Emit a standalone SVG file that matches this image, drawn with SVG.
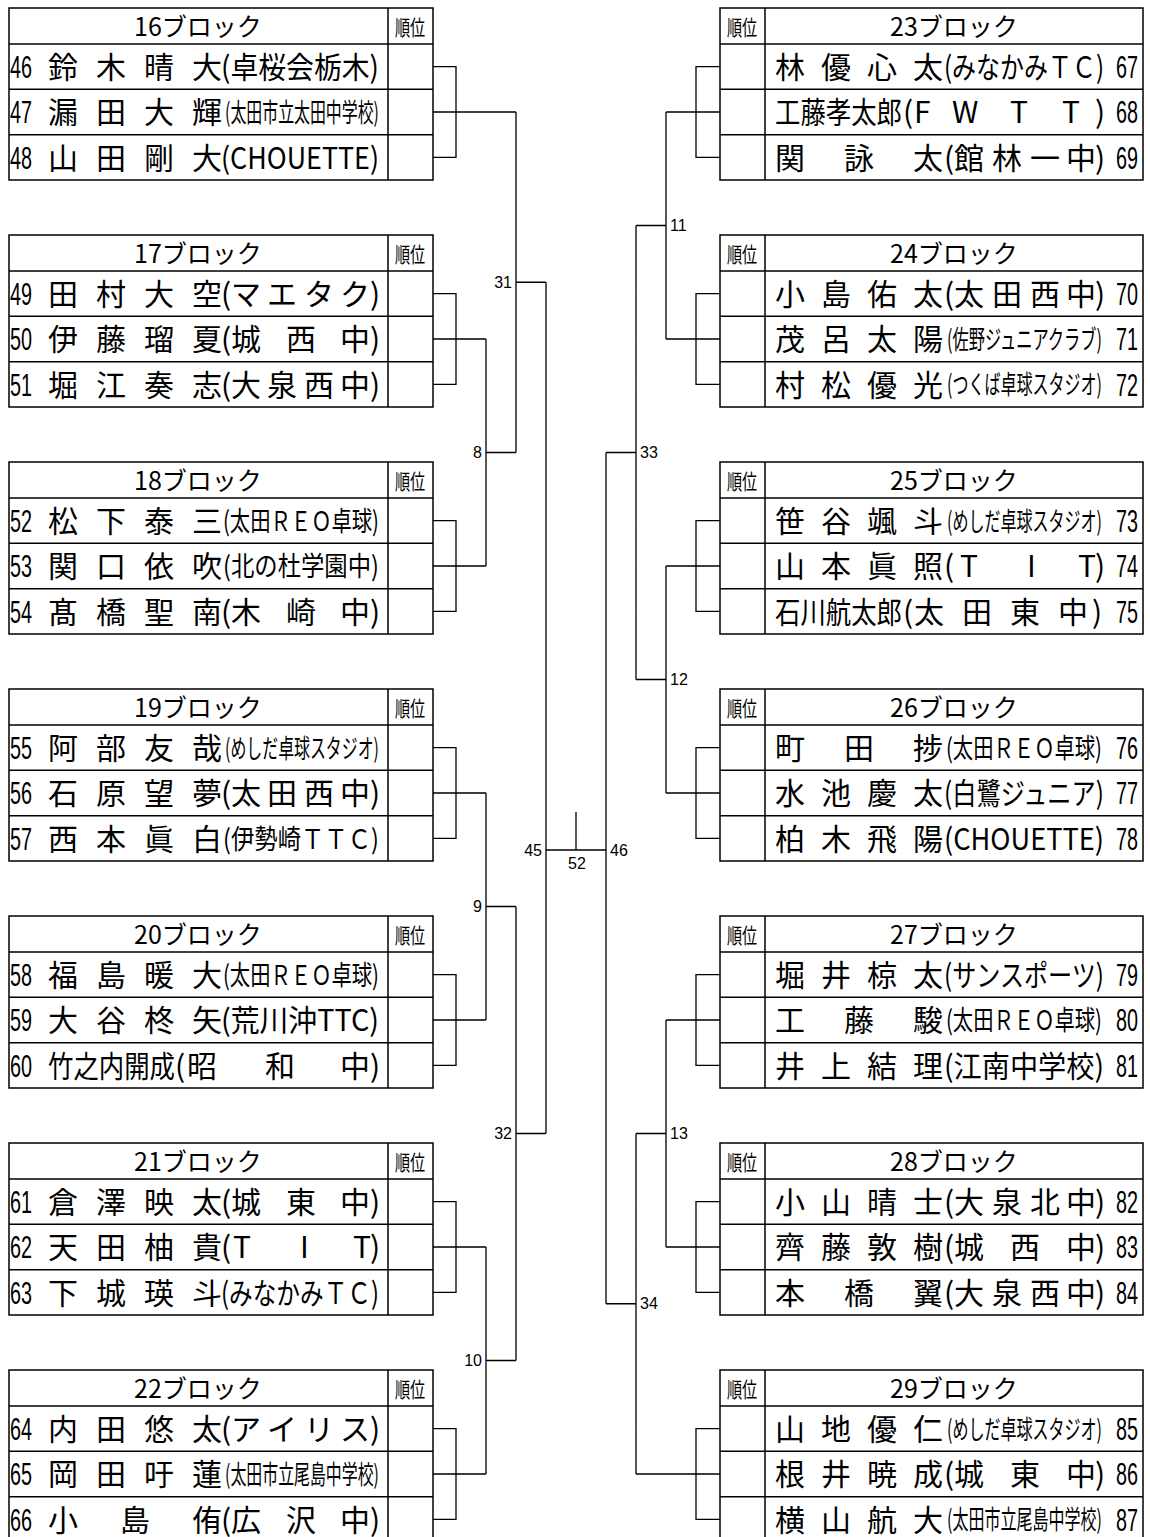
<svg xmlns="http://www.w3.org/2000/svg" width="1150" height="1537" viewBox="0 0 1150 1537">
<style>
.tb{fill:none;stroke:#000;stroke-width:1.5}
.ln{fill:none;stroke:#000;stroke-width:1.3}
text{fill:#000}
.hd{font-family:"Noto Sans CJK JP",sans-serif;font-size:25px;text-anchor:middle}
.jr{font-family:"Noto Sans CJK JP",sans-serif;font-size:21px;text-anchor:middle}
.nm{font-family:"Noto Sans CJK JP",sans-serif;font-size:30px}
.md{font-family:"Noto Sans CJK JP",sans-serif;font-size:27px}
.sm{font-family:"Noto Sans CJK JP",sans-serif;font-size:26px}
.no{font-family:"Liberation Sans",Arial,sans-serif;font-size:32px}
.lb{font-family:"Liberation Sans",Arial,sans-serif;font-size:16px}
.e{text-anchor:end}.m{text-anchor:middle}
</style>
<rect width="1150" height="1537" fill="#fff"/>

<g id="connectors">
<path class="ln" d="M433 66.67H456V157.33H433M433 112H516M433 293.67H456V384.33H433M433 339H486M433 520.67H456V611.33H433M433 566H486M433 747.67H456V838.33H433M433 793H486M433 974.67H456V1065.33H433M433 1020H486M433 1201.67H456V1292.33H433M433 1247H486M433 1428.67H456V1519.33H433M433 1474H486M486 339V566M486 452.5H516M486 793V1020M486 906.5H516M486 1247V1474M486 1360.5H516M516 112V452.5M516 282.25H546M516 906.5V1360.5M516 1133.5H546M546 282.25V1133.5M546 850H606M576 812V850"/>
<path class="ln" d="M720 66.67H696V157.33H720M720 112H666M720 293.67H696V384.33H720M720 339H666M720 520.67H696V611.33H720M720 566H666M720 747.67H696V838.33H720M720 793H666M720 974.67H696V1065.33H720M720 1020H666M720 1201.67H696V1292.33H720M720 1247H666M720 1428.67H696V1519.33H720M720 1474H636M666 112V339M666 225.5H636M666 566V793M666 679.5H636M666 1020V1247M666 1133.5H636M636 225.5V679.5M636 452.5H606M636 1133.5V1474M636 1303.75H606M606 452.5V1303.75"/>
<text class="lb e" x="512" y="288">31</text>
<text class="lb e" x="482" y="458">8</text>
<text class="lb e" x="482" y="912">9</text>
<text class="lb e" x="482" y="1366">10</text>
<text class="lb e" x="512" y="1139">32</text>
<text class="lb e" x="542" y="856">45</text>
<text class="lb" x="610" y="856">46</text>
<text class="lb m" x="577" y="869">52</text>
<text class="lb" x="670" y="231">11</text>
<text class="lb" x="670" y="685">12</text>
<text class="lb" x="670" y="1139">13</text>
<text class="lb" x="640" y="458">33</text>
<text class="lb" x="640" y="1309">34</text>
</g>

<g id="block16">
<rect class="tb" x="9" y="8" width="424" height="172"/>
<path class="tb" d="M388 8V180M9 44H433M9 89.33H433M9 134.67H433"/>
<text class="hd" x="198" y="36">16ブロック</text>
<text class="jr" transform="translate(410 35) scale(0.72 1)">順位</text>
<text class="no" x="10" y="78" textLength="22" lengthAdjust="spacingAndGlyphs">46</text>
<text class="nm" x="48 96 144 192" y="78">鈴木晴大</text>
<text class="nm" x="221" y="78" textLength="158" lengthAdjust="spacingAndGlyphs">(卓桜会栃木)</text>
<text class="no" x="10" y="123.3" textLength="22" lengthAdjust="spacingAndGlyphs">47</text>
<text class="nm" x="48 96 144 192" y="123.3">漏田大輝</text>
<text class="sm" x="225" y="121.9" textLength="154" lengthAdjust="spacingAndGlyphs">(太田市立太田中学校)</text>
<text class="no" x="10" y="168.6" textLength="22" lengthAdjust="spacingAndGlyphs">48</text>
<text class="nm" x="48 96 144 192" y="168.6">山田剛大</text>
<text class="nm" x="221" y="168.6" textLength="158" lengthAdjust="spacingAndGlyphs">(CHOUETTE)</text>
</g>

<g id="block17">
<rect class="tb" x="9" y="235" width="424" height="172"/>
<path class="tb" d="M388 235V407M9 271H433M9 316.33H433M9 361.67H433"/>
<text class="hd" x="198" y="263">17ブロック</text>
<text class="jr" transform="translate(410 262) scale(0.72 1)">順位</text>
<text class="no" x="10" y="305" textLength="22" lengthAdjust="spacingAndGlyphs">49</text>
<text class="nm" x="48 96 144 192" y="305">田村大空</text>
<text class="nm" x="221 231 267 304 340 370" y="305">(マエタク)</text>
<text class="no" x="10" y="350.3" textLength="22" lengthAdjust="spacingAndGlyphs">50</text>
<text class="nm" x="48 96 144 192" y="350.3">伊藤瑠夏</text>
<text class="nm" x="221 231 286 340 370" y="350.3">(城西中)</text>
<text class="no" x="10" y="395.6" textLength="22" lengthAdjust="spacingAndGlyphs">51</text>
<text class="nm" x="48 96 144 192" y="395.6">堀江奏志</text>
<text class="nm" x="221 231 267 304 340 370" y="395.6">(大泉西中)</text>
</g>

<g id="block18">
<rect class="tb" x="9" y="462" width="424" height="172"/>
<path class="tb" d="M388 462V634M9 498H433M9 543.33H433M9 588.67H433"/>
<text class="hd" x="198" y="490">18ブロック</text>
<text class="jr" transform="translate(410 489) scale(0.72 1)">順位</text>
<text class="no" x="10" y="532" textLength="22" lengthAdjust="spacingAndGlyphs">52</text>
<text class="nm" x="48 96 144 192" y="532">松下泰三</text>
<text class="md" x="223" y="531" textLength="156" lengthAdjust="spacingAndGlyphs">(太田ＲＥＯ卓球)</text>
<text class="no" x="10" y="577.3" textLength="22" lengthAdjust="spacingAndGlyphs">53</text>
<text class="nm" x="48 96 144 192" y="577.3">関口依吹</text>
<text class="md" x="223" y="576.3" textLength="156" lengthAdjust="spacingAndGlyphs">(北の杜学園中)</text>
<text class="no" x="10" y="622.6" textLength="22" lengthAdjust="spacingAndGlyphs">54</text>
<text class="nm" x="48 96 144 192" y="622.6">髙橋聖南</text>
<text class="nm" x="221 231 286 340 370" y="622.6">(木崎中)</text>
</g>

<g id="block19">
<rect class="tb" x="9" y="689" width="424" height="172"/>
<path class="tb" d="M388 689V861M9 725H433M9 770.33H433M9 815.67H433"/>
<text class="hd" x="198" y="717">19ブロック</text>
<text class="jr" transform="translate(410 716) scale(0.72 1)">順位</text>
<text class="no" x="10" y="759" textLength="22" lengthAdjust="spacingAndGlyphs">55</text>
<text class="nm" x="48 96 144 192" y="759">阿部友哉</text>
<text class="sm" x="225" y="757.6" textLength="154" lengthAdjust="spacingAndGlyphs">(めしだ卓球スタジオ)</text>
<text class="no" x="10" y="804.3" textLength="22" lengthAdjust="spacingAndGlyphs">56</text>
<text class="nm" x="48 96 144 192" y="804.3">石原望夢</text>
<text class="nm" x="221 231 267 304 340 370" y="804.3">(太田西中)</text>
<text class="no" x="10" y="849.6" textLength="22" lengthAdjust="spacingAndGlyphs">57</text>
<text class="nm" x="48 96 144 192" y="849.6">西本眞白</text>
<text class="md" x="223" y="848.6" textLength="156" lengthAdjust="spacingAndGlyphs">(伊勢崎ＴＴＣ)</text>
</g>

<g id="block20">
<rect class="tb" x="9" y="916" width="424" height="172"/>
<path class="tb" d="M388 916V1088M9 952H433M9 997.33H433M9 1042.67H433"/>
<text class="hd" x="198" y="944">20ブロック</text>
<text class="jr" transform="translate(410 943) scale(0.72 1)">順位</text>
<text class="no" x="10" y="986" textLength="22" lengthAdjust="spacingAndGlyphs">58</text>
<text class="nm" x="48 96 144 192" y="986">福島暖大</text>
<text class="md" x="223" y="985" textLength="156" lengthAdjust="spacingAndGlyphs">(太田ＲＥＯ卓球)</text>
<text class="no" x="10" y="1031.3" textLength="22" lengthAdjust="spacingAndGlyphs">59</text>
<text class="nm" x="48 96 144 192" y="1031.3">大谷柊矢</text>
<text class="nm" x="221" y="1031.3" textLength="158" lengthAdjust="spacingAndGlyphs">(荒川沖TTC)</text>
<text class="no" x="10" y="1076.6" textLength="22" lengthAdjust="spacingAndGlyphs">60</text>
<text class="nm" x="48" y="1076.6" textLength="127" lengthAdjust="spacingAndGlyphs">竹之内開成</text>
<text class="nm" x="175 187 265 340 370" y="1076.6">(昭和中)</text>
</g>

<g id="block21">
<rect class="tb" x="9" y="1143" width="424" height="172"/>
<path class="tb" d="M388 1143V1315M9 1179H433M9 1224.33H433M9 1269.67H433"/>
<text class="hd" x="198" y="1171">21ブロック</text>
<text class="jr" transform="translate(410 1170) scale(0.72 1)">順位</text>
<text class="no" x="10" y="1213" textLength="22" lengthAdjust="spacingAndGlyphs">61</text>
<text class="nm" x="48 96 144 192" y="1213">倉澤映太</text>
<text class="nm" x="221 231 286 340 370" y="1213">(城東中)</text>
<text class="no" x="10" y="1258.3" textLength="22" lengthAdjust="spacingAndGlyphs">62</text>
<text class="nm" x="48 96 144 192" y="1258.3">天田柚貴</text>
<text class="nm" x="221 233 300 353 370" y="1258.3">(TIT)</text>
<text class="no" x="10" y="1303.6" textLength="22" lengthAdjust="spacingAndGlyphs">63</text>
<text class="nm" x="48 96 144 192" y="1303.6">下城瑛斗</text>
<text class="nm" x="221" y="1303.6" textLength="158" lengthAdjust="spacingAndGlyphs">(みなかみＴＣ)</text>
</g>

<g id="block22">
<rect class="tb" x="9" y="1370" width="424" height="172"/>
<path class="tb" d="M388 1370V1542M9 1406H433M9 1451.33H433M9 1496.67H433"/>
<text class="hd" x="198" y="1398">22ブロック</text>
<text class="jr" transform="translate(410 1397) scale(0.72 1)">順位</text>
<text class="no" x="10" y="1440" textLength="22" lengthAdjust="spacingAndGlyphs">64</text>
<text class="nm" x="48 96 144 192" y="1440">内田悠太</text>
<text class="nm" x="221 231 267 304 340 370" y="1440">(アイリス)</text>
<text class="no" x="10" y="1485.3" textLength="22" lengthAdjust="spacingAndGlyphs">65</text>
<text class="nm" x="48 96 144 192" y="1485.3">岡田吁蓮</text>
<text class="sm" x="225" y="1483.9" textLength="154" lengthAdjust="spacingAndGlyphs">(太田市立尾島中学校)</text>
<text class="no" x="10" y="1530.6" textLength="22" lengthAdjust="spacingAndGlyphs">66</text>
<text class="nm" x="48 120 192" y="1530.6">小島侑</text>
<text class="nm" x="221 231 286 340 370" y="1530.6">(広沢中)</text>
</g>

<g id="block23">
<rect class="tb" x="720" y="8" width="423" height="172"/>
<path class="tb" d="M765 8V180M720 44H1143M720 89.33H1143M720 134.67H1143"/>
<text class="hd" x="954" y="36">23ブロック</text>
<text class="jr" transform="translate(742 35) scale(0.72 1)">順位</text>
<text class="nm" x="775 821 867 913" y="78">林優心太</text>
<text class="nm" x="944" y="78" textLength="160" lengthAdjust="spacingAndGlyphs">(みなかみＴＣ)</text>
<text class="no" x="1116" y="78" textLength="22" lengthAdjust="spacingAndGlyphs">67</text>
<text class="nm" x="775" y="123.3" textLength="127" lengthAdjust="spacingAndGlyphs">工藤孝太郎</text>
<text class="nm" x="903 914 952 1010 1062 1095" y="123.3">(FWTT)</text>
<text class="no" x="1116" y="123.3" textLength="22" lengthAdjust="spacingAndGlyphs">68</text>
<text class="nm" x="775 844 913" y="168.6">関詠太</text>
<text class="nm" x="944 954 992 1030 1066 1095" y="168.6">(館林一中)</text>
<text class="no" x="1116" y="168.6" textLength="22" lengthAdjust="spacingAndGlyphs">69</text>
</g>

<g id="block24">
<rect class="tb" x="720" y="235" width="423" height="172"/>
<path class="tb" d="M765 235V407M720 271H1143M720 316.33H1143M720 361.67H1143"/>
<text class="hd" x="954" y="263">24ブロック</text>
<text class="jr" transform="translate(742 262) scale(0.72 1)">順位</text>
<text class="nm" x="775 821 867 913" y="305">小島佑太</text>
<text class="nm" x="944 954 992 1030 1066 1095" y="305">(太田西中)</text>
<text class="no" x="1116" y="305" textLength="22" lengthAdjust="spacingAndGlyphs">70</text>
<text class="nm" x="775 821 867 913" y="350.3">茂呂太陽</text>
<text class="sm" x="947" y="348.9" textLength="155" lengthAdjust="spacingAndGlyphs">(佐野ジュニアクラブ)</text>
<text class="no" x="1116" y="350.3" textLength="22" lengthAdjust="spacingAndGlyphs">71</text>
<text class="nm" x="775 821 867 913" y="395.6">村松優光</text>
<text class="sm" x="947" y="394.2" textLength="155" lengthAdjust="spacingAndGlyphs">(つくば卓球スタジオ)</text>
<text class="no" x="1116" y="395.6" textLength="22" lengthAdjust="spacingAndGlyphs">72</text>
</g>

<g id="block25">
<rect class="tb" x="720" y="462" width="423" height="172"/>
<path class="tb" d="M765 462V634M720 498H1143M720 543.33H1143M720 588.67H1143"/>
<text class="hd" x="954" y="490">25ブロック</text>
<text class="jr" transform="translate(742 489) scale(0.72 1)">順位</text>
<text class="nm" x="775 821 867 913" y="532">笹谷颯斗</text>
<text class="sm" x="947" y="530.6" textLength="155" lengthAdjust="spacingAndGlyphs">(めしだ卓球スタジオ)</text>
<text class="no" x="1116" y="532" textLength="22" lengthAdjust="spacingAndGlyphs">73</text>
<text class="nm" x="775 821 867 913" y="577.3">山本眞照</text>
<text class="nm" x="944 960 1027 1078 1095" y="577.3">(TIT)</text>
<text class="no" x="1116" y="577.3" textLength="22" lengthAdjust="spacingAndGlyphs">74</text>
<text class="nm" x="775" y="622.6" textLength="127" lengthAdjust="spacingAndGlyphs">石川航太郎</text>
<text class="nm" x="903 914 962 1010 1058 1092" y="622.6">(太田東中)</text>
<text class="no" x="1116" y="622.6" textLength="22" lengthAdjust="spacingAndGlyphs">75</text>
</g>

<g id="block26">
<rect class="tb" x="720" y="689" width="423" height="172"/>
<path class="tb" d="M765 689V861M720 725H1143M720 770.33H1143M720 815.67H1143"/>
<text class="hd" x="954" y="717">26ブロック</text>
<text class="jr" transform="translate(742 716) scale(0.72 1)">順位</text>
<text class="nm" x="775 844 913" y="759">町田捗</text>
<text class="md" x="946" y="758" textLength="156" lengthAdjust="spacingAndGlyphs">(太田ＲＥＯ卓球)</text>
<text class="no" x="1116" y="759" textLength="22" lengthAdjust="spacingAndGlyphs">76</text>
<text class="nm" x="775 821 867 913" y="804.3">水池慶太</text>
<text class="nm" x="944" y="804.3" textLength="160" lengthAdjust="spacingAndGlyphs">(白鷺ジュニア)</text>
<text class="no" x="1116" y="804.3" textLength="22" lengthAdjust="spacingAndGlyphs">77</text>
<text class="nm" x="775 821 867 913" y="849.6">柏木飛陽</text>
<text class="nm" x="944" y="849.6" textLength="160" lengthAdjust="spacingAndGlyphs">(CHOUETTE)</text>
<text class="no" x="1116" y="849.6" textLength="22" lengthAdjust="spacingAndGlyphs">78</text>
</g>

<g id="block27">
<rect class="tb" x="720" y="916" width="423" height="172"/>
<path class="tb" d="M765 916V1088M720 952H1143M720 997.33H1143M720 1042.67H1143"/>
<text class="hd" x="954" y="944">27ブロック</text>
<text class="jr" transform="translate(742 943) scale(0.72 1)">順位</text>
<text class="nm" x="775 821 867 913" y="986">堀井椋太</text>
<text class="nm" x="944" y="986" textLength="160" lengthAdjust="spacingAndGlyphs">(サンスポーツ)</text>
<text class="no" x="1116" y="986" textLength="22" lengthAdjust="spacingAndGlyphs">79</text>
<text class="nm" x="775 844 913" y="1031.3">工藤駿</text>
<text class="md" x="946" y="1030.3" textLength="156" lengthAdjust="spacingAndGlyphs">(太田ＲＥＯ卓球)</text>
<text class="no" x="1116" y="1031.3" textLength="22" lengthAdjust="spacingAndGlyphs">80</text>
<text class="nm" x="775 821 867 913" y="1076.6">井上結理</text>
<text class="nm" x="944" y="1076.6" textLength="160" lengthAdjust="spacingAndGlyphs">(江南中学校)</text>
<text class="no" x="1116" y="1076.6" textLength="22" lengthAdjust="spacingAndGlyphs">81</text>
</g>

<g id="block28">
<rect class="tb" x="720" y="1143" width="423" height="172"/>
<path class="tb" d="M765 1143V1315M720 1179H1143M720 1224.33H1143M720 1269.67H1143"/>
<text class="hd" x="954" y="1171">28ブロック</text>
<text class="jr" transform="translate(742 1170) scale(0.72 1)">順位</text>
<text class="nm" x="775 821 867 913" y="1213">小山晴士</text>
<text class="nm" x="944 954 992 1030 1066 1095" y="1213">(大泉北中)</text>
<text class="no" x="1116" y="1213" textLength="22" lengthAdjust="spacingAndGlyphs">82</text>
<text class="nm" x="775 821 867 913" y="1258.3">齊藤敦樹</text>
<text class="nm" x="944 954 1010 1066 1095" y="1258.3">(城西中)</text>
<text class="no" x="1116" y="1258.3" textLength="22" lengthAdjust="spacingAndGlyphs">83</text>
<text class="nm" x="775 844 913" y="1303.6">本橋翼</text>
<text class="nm" x="944 954 992 1030 1066 1095" y="1303.6">(大泉西中)</text>
<text class="no" x="1116" y="1303.6" textLength="22" lengthAdjust="spacingAndGlyphs">84</text>
</g>

<g id="block29">
<rect class="tb" x="720" y="1370" width="423" height="172"/>
<path class="tb" d="M765 1370V1542M720 1406H1143M720 1451.33H1143M720 1496.67H1143"/>
<text class="hd" x="954" y="1398">29ブロック</text>
<text class="jr" transform="translate(742 1397) scale(0.72 1)">順位</text>
<text class="nm" x="775 821 867 913" y="1440">山地優仁</text>
<text class="sm" x="947" y="1438.6" textLength="155" lengthAdjust="spacingAndGlyphs">(めしだ卓球スタジオ)</text>
<text class="no" x="1116" y="1440" textLength="22" lengthAdjust="spacingAndGlyphs">85</text>
<text class="nm" x="775 821 867 913" y="1485.3">根井暁成</text>
<text class="nm" x="944 954 1010 1066 1095" y="1485.3">(城東中)</text>
<text class="no" x="1116" y="1485.3" textLength="22" lengthAdjust="spacingAndGlyphs">86</text>
<text class="nm" x="775 821 867 913" y="1530.6">横山航大</text>
<text class="sm" x="947" y="1529.2" textLength="155" lengthAdjust="spacingAndGlyphs">(太田市立尾島中学校)</text>
<text class="no" x="1116" y="1530.6" textLength="22" lengthAdjust="spacingAndGlyphs">87</text>
</g>
</svg>
